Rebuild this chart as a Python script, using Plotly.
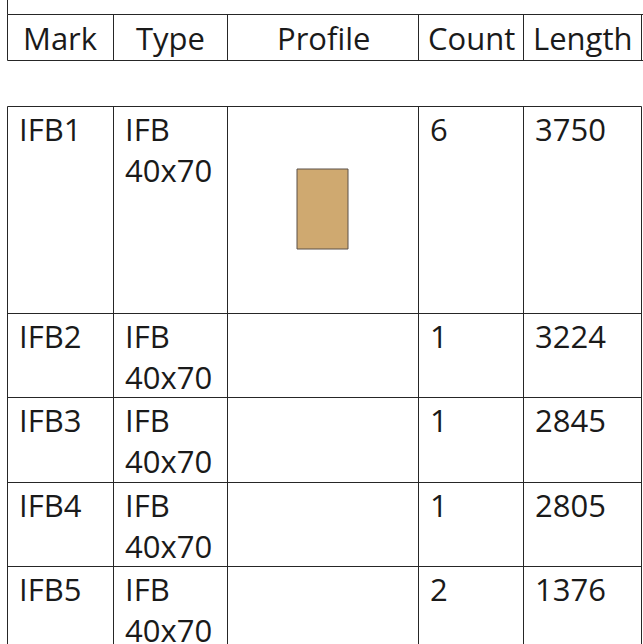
import plotly.graph_objects as go

# ---- data ----
header_labels = ["Mark", "Type", "Profile", "Count", "Length"]
marks = ["IFB1", "IFB2", "IFB3", "IFB4", "IFB5"]
types = ["IFB 40x70", "IFB 40x70", "IFB 40x70", "IFB 40x70", "IFB 40x70"]
counts = [6, 1, 1, 1, 2]
lengths = [3750, 3224, 2845, 2805, 1376]

# ---- layout geometry (pixels) ----
W, H = 643, 644
col_edges = [7.5, 113.5, 227.5, 418.5, 523.5, 641.5]
header_top, header_bot = 14.5, 60.5
row_edges = [106.5, 313.5, 397.5, 482.5, 566.5, 651.0]
line_color = "#262626"
text_color = "#1a1a1a"
font_family = "Open Sans"
fs = 31
pad_x = 9
first_line_off = 22
line_step = 41

fig = go.Figure()
fig.add_trace(go.Scatter(x=[0, W], y=[0, H], mode="markers",
                         marker=dict(opacity=0), hoverinfo="skip", showlegend=False))

shapes = []
def hline(y, x0, x1):
    shapes.append(dict(type="line", xref="x", yref="y", x0=x0, x1=x1, y0=y, y1=y,
                       line=dict(color=line_color, width=1)))
def vline(x, y0, y1):
    shapes.append(dict(type="line", xref="x", yref="y", x0=x, x1=x, y0=y0, y1=y1,
                       line=dict(color=line_color, width=1)))

# partial frame above header
vline(col_edges[0], 0, header_top)
# header grid
hline(header_top, col_edges[0], W)
hline(header_bot, col_edges[0], W)
for x in col_edges:
    vline(x, header_top, header_bot)
# body grid
for y in row_edges[:-1]:
    hline(y, col_edges[0], col_edges[-1])
for x in col_edges:
    vline(x, row_edges[0], H + 10)

# profile drawing in first row
shapes.append(dict(type="rect", xref="x", yref="y", x0=297, x1=348, y0=169, y1=249,
                   fillcolor="#CFA970", line=dict(color="#5a5048", width=1), layer="above"))

annotations = []
def txt(x, y, s, xanchor="left"):
    annotations.append(dict(x=x, y=y, xref="x", yref="y", text=s, showarrow=False,
                            xanchor=xanchor, yanchor="middle",
                            font=dict(family=font_family, size=fs, color=text_color)))

# header labels
for i, lab in enumerate(header_labels):
    cx = (col_edges[i] + col_edges[i + 1]) / 2
    txt(cx, (header_top + header_bot) / 2, lab, xanchor="center")

# body cells
for r in range(len(marks)):
    top = row_edges[r]
    cells = [marks[r], types[r], "", str(counts[r]), str(lengths[r])]
    for c, val in enumerate(cells):
        if not val:
            continue
        lines = val.split(" ")
        for k, ln in enumerate(lines):
            txt(col_edges[c] + pad_x, top + first_line_off + k * line_step, ln)

fig.update_layout(
    width=W, height=H,
    margin=dict(l=0, r=0, t=0, b=0),
    paper_bgcolor="white", plot_bgcolor="white",
    xaxis=dict(range=[0, W], visible=False, fixedrange=True),
    yaxis=dict(range=[H, 0], visible=False, fixedrange=True),
    shapes=shapes, annotations=annotations, showlegend=False,
)

fig.write_html("out.html", config={"displayModeBar": False},
               post_script="document.body.style.margin='0';")
